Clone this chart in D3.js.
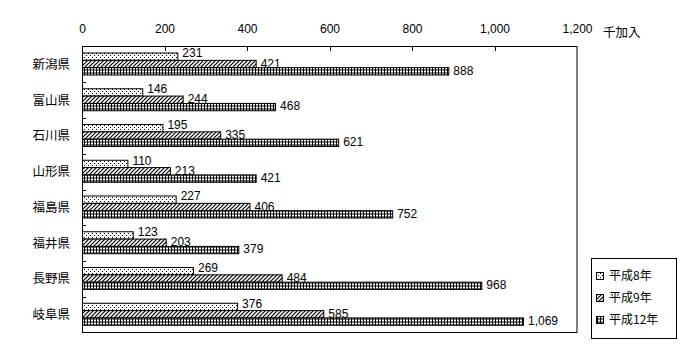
<!DOCTYPE html>
<html><head><meta charset="utf-8">
<script src="https://cdn.jsdelivr.net/npm/d3@7"></script>
<style>body{margin:0;background:#fff}svg{display:block}</style>
</head><body>
<svg id="c" width="700" height="360"></svg>
<script>
const categories = ["新潟県","富山県","石川県","山形県","福島県","福井県","長野県","岐阜県"];
const seriesNames = ["平成8年","平成9年","平成12年"];
const h8  = [231,146,195,110,227,123,269,376];
const h9  = [421,244,335,213,406,203,484,585];
const h12 = [888,468,621,421,752,379,968,1069];
const xTicks = [0,200,400,600,800,1000,1200];
const unitLabel = "千加入";

const seriesVals = [h8,h9,h12];
const svg = d3.select("#c");
const L = 82, R = 577, T = 46.5, B = 332.5;
const x = d3.scaleLinear().domain([0,1200]).range([L,R]);
const y = d3.scaleBand().domain(categories).range([T,B]).padding(0);
const inner = d3.scaleBand().domain([0,1,2]).range([6.5,28.5]).padding(0);
const labelShift = [-3.5,-0.5,-1];

const defs = svg.append("defs");
// dotted
const p1 = defs.append("pattern").attr("id","pDot").attr("patternUnits","userSpaceOnUse").attr("width",4).attr("height",4);
p1.append("rect").attr("width",4).attr("height",4).attr("fill","#fff");
p1.append("rect").attr("x",0).attr("y",1).attr("width",1).attr("height",1).attr("fill","#000");
p1.append("rect").attr("x",2).attr("y",3).attr("width",1).attr("height",1).attr("fill","#000");
// hatch
const p2 = defs.append("pattern").attr("id","pHatch").attr("patternUnits","userSpaceOnUse").attr("width",4).attr("height",4);
p2.append("rect").attr("width",4).attr("height",4).attr("fill","#fff");
p2.append("path").attr("d","M-1,1 L1,-1 M0,4 L4,0 M3,5 L5,3").attr("stroke","#000").attr("stroke-width",1.2);
// grid
const p3 = defs.append("pattern").attr("id","pGrid").attr("patternUnits","userSpaceOnUse").attr("width",3).attr("height",3).attr("y",0.5);
p3.append("rect").attr("width",3).attr("height",3).attr("fill","#000");
p3.append("rect").attr("x",1).attr("y",1).attr("width",2).attr("height",2).attr("fill","#fff");
const fills = ["url(#pDot)","url(#pHatch)","url(#pGrid)"];

// plot frame
svg.append("rect").attr("x",L+0.5).attr("y",T).attr("width",R-L-0.5).attr("height",B-T)
  .attr("fill","#fff").attr("stroke","#000").attr("stroke-width",1);

// top axis ticks & labels
const xa = d3.axisTop(x).tickValues(xTicks).tickSize(-4).tickFormat(d3.format(","));
const gx = svg.append("g").attr("transform",`translate(0,${T})`).call(xa);
gx.select(".domain").remove();
gx.selectAll(".tick line").attr("stroke","#000").attr("shape-rendering","crispEdges")
  .filter(d => d===0 || d===1200).remove();
gx.selectAll(".tick text").attr("y",-14).attr("font-family","Liberation Sans, Arial, sans-serif")
  .attr("font-size",12).attr("fill","#000");
svg.append("text").attr("x",603).attr("y",T-14).attr("font-family","Noto Sans CJK JP, sans-serif")
  .attr("font-size",12.5).attr("fill","#000").attr("dy","0.32em")
  .text(unitLabel);

// left category ticks
svg.append("g").selectAll("line").data(categories.slice(1)).join("line")
  .attr("x1",L).attr("x2",L+4).attr("y1",d=>Math.round(y(d))+0.5).attr("y2",d=>Math.round(y(d))+0.5)
  .attr("stroke","#000");

// category labels
svg.append("g").selectAll("text").data(categories).join("text")
  .attr("x",70).attr("y",d=>y(d)+y.bandwidth()/2).attr("dy","0.35em").attr("text-anchor","end")
  .attr("font-family","Noto Sans CJK JP, sans-serif").attr("font-size",12.5).attr("fill","#000")
  .text(d=>d);

// bars
seriesVals.forEach((vals,si)=>{
  const g = svg.append("g");
  g.selectAll("rect").data(vals).join("rect")
    .attr("x",x(0)+0.5).attr("y",(d,i)=>y(categories[i])+inner(si))
    .attr("width",d=>x(d)-x(0)).attr("height",inner.bandwidth())
    .attr("fill",fills[si]).attr("stroke","#000").attr("stroke-width",1);
  g.selectAll("text").data(vals).join("text")
    .attr("x",d=>x(d)+5).attr("y",(d,i)=>y(categories[i])+inner(si)+inner.bandwidth()/2+labelShift[si])
    .attr("dy","0.35em").attr("font-family","Liberation Sans, Arial, sans-serif").attr("font-size",12)
    .attr("fill","#000").text(d=>d3.format(",")(d));
});

// legend
const lg = svg.append("g");
lg.append("rect").attr("x",591.5).attr("y",258.5).attr("width",85).attr("height",80)
  .attr("fill","#fff").attr("stroke","#000");
seriesNames.forEach((n,i)=>{
  const cy = 276 + i*22;
  lg.append("rect").attr("x",596.5).attr("y",cy-3.5).attr("width",7).attr("height",7)
    .attr("fill",fills[i]).attr("stroke","#000");
  lg.append("text").attr("x",609).attr("y",cy).attr("dy","0.35em")
    .attr("font-family","Noto Sans CJK JP, sans-serif").attr("font-size",12).attr("fill","#000").text(n);
});
</script>
</body></html>
